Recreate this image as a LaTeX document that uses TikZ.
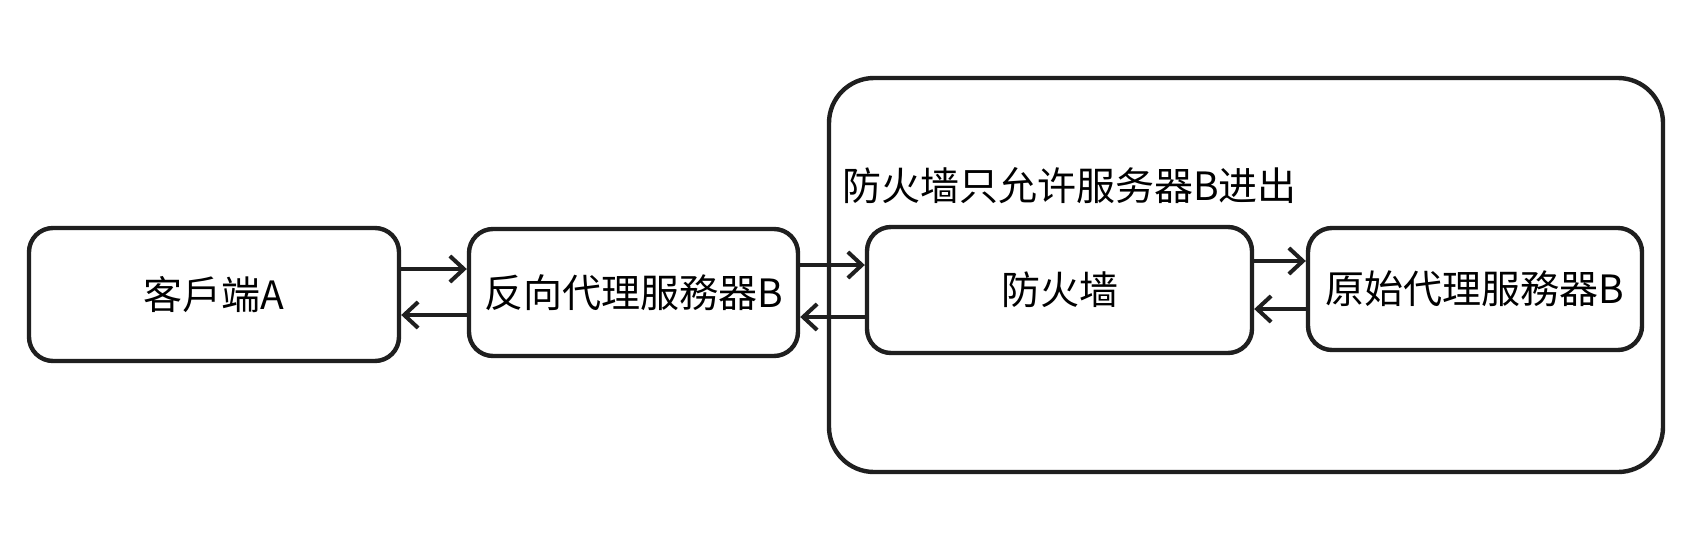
\documentclass[tikz,border=0pt]{standalone}
\usepackage{fontspec}
\newfontfamily\cjk{Noto Sans CJK SC}
\usetikzlibrary{arrows.meta}
\begin{document}
\begin{tikzpicture}[x=1pt,y=-1pt,
  box/.style={draw=black!88, line width=4.4pt, rounded corners=24pt, inner sep=0pt, font=\cjk\fontsize{39}{41}\selectfont},
  lbl/.style={inner sep=0pt, font=\cjk\fontsize{39}{41}\selectfont},
  arr/.style={draw=black!88, line width=4pt, line cap=round, -{Straight Barb[length=14pt,width=26pt,line width=4pt]}}]
\useasboundingbox[fill=white] (0,0) rectangle (1703,552);
\node[box, rounded corners=45pt, minimum width=834pt, minimum height=394pt] (C) at (1246,275) {};
\node[lbl, anchor=west] (T) at (842,186) {防火墙只允许服务器B进出};
\node[box, minimum width=370pt, minimum height=133pt] (A) at (214,294.5) {\raisebox{3pt}{客戶端A}};
\node[box, minimum width=329pt, minimum height=127pt] (R) at (633.5,292.5) {\raisebox{3pt}{反向代理服務器B}};
\node[box, minimum width=385pt, minimum height=126pt] (F) at (1059.5,290) {\raisebox{3pt}{防火墙}};
\node[box, minimum width=334pt, minimum height=122pt] (O) at (1475,289) {\raisebox{2pt}{原始代理服務器B}};
\draw[arr] (A.east |- 0,269) -- (R.west |- 0,269);
\draw[arr] (R.west |- 0,315) -- (A.east |- 0,315);
\draw[arr] (R.east |- 0,265) -- (F.west |- 0,265);
\draw[arr] (F.west |- 0,317) -- (R.east |- 0,317);
\draw[arr] (F.east |- 0,261) -- (O.west |- 0,261);
\draw[arr] (O.west |- 0,309) -- (F.east |- 0,309);
\end{tikzpicture}
\end{document}
